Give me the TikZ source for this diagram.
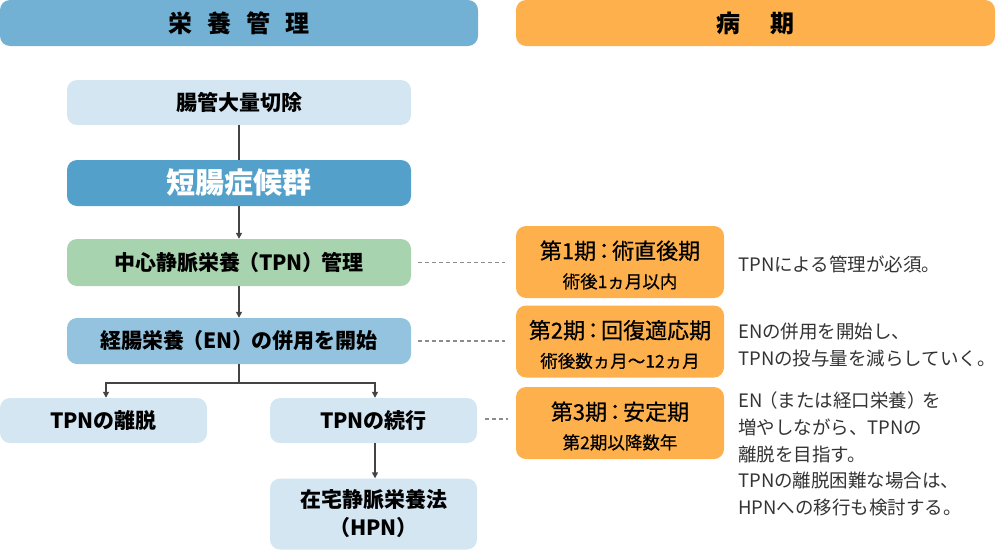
\documentclass[tikz,border=0pt]{standalone}
\usepackage{fontspec}
\setmainfont{Noto Sans CJK JP}
\newfontfamily\jpmed{Noto Sans CJK JP}[FakeBold=0.6]
\usetikzlibrary{arrows.meta}
\definecolor{hblue}{HTML}{72B1D4}
\definecolor{horange}{HTML}{FDB04B}
\definecolor{lblue}{HTML}{D4E6F2}
\definecolor{mblue}{HTML}{53A1CB}
\definecolor{lgreen}{HTML}{A7D3AE}
\definecolor{sblue}{HTML}{93C3DE}
\definecolor{txtgray}{HTML}{333333}
\definecolor{lnk}{HTML}{444444}
\definecolor{dotc}{HTML}{8C8C8C}
\tikzset{
  box/.style={rectangle, rounded corners=10pt, inner sep=0pt, align=center, font=\bfseries\fontsize{21}{26}\selectfont},
  hdr/.style={box, minimum height=46pt, font=\bfseries\fontsize{24}{28}\selectfont},
  obox/.style={box, fill=horange, minimum width=208pt, minimum height=72pt},
  otext/.style={inner sep=0pt, align=center, font=\jpmed\fontsize{22}{29}\selectfont},
  arr/.style={draw=lnk, line width=1.4pt, -{Triangle[length=6pt,width=6pt]}},
  ln/.style={draw=lnk, line width=1.4pt},
  dot/.style={draw=dotc, line width=1.4pt, dash pattern=on 3.5pt off 3.5pt},
  note/.style={anchor=west, inner sep=0pt, align=left, text=txtgray, font=\fontsize{18.5}{26.8}\selectfont}
}
\newcommand{\smallline}[1]{{\fontsize{17.5}{22}\selectfont #1}}
\newcommand{\pl}{\kern-2pt（}
\newcommand{\pr}{）\kern-2pt}
\begin{document}
\begin{tikzpicture}[x=1pt,y=-1pt]
\useasboundingbox (0,0) rectangle (1000,549);
% headers
\node[hdr, fill=hblue, minimum width=478pt] (hL) at (239,23) {栄\hspace{15pt}養\hspace{15pt}管\hspace{15pt}理};
\node[hdr, fill=horange, minimum width=479pt] (hR) at (755.5,23) {病\hspace{30pt}期};
% left column
\node[box, fill=lblue, minimum width=344pt, minimum height=45pt] (n1) at (239,102.5) {腸管大量切除};
\node[box, fill=mblue, text=white, minimum width=344pt, minimum height=46pt, font=\bfseries\fontsize{29}{32}\selectfont] (n2) at (239,183) {短腸症候群};
\node[box, fill=lgreen, minimum width=344pt, minimum height=47pt] (n3) at (239,262.5) {中心静脈栄養\pl TPN\pr 管理};
\node[box, fill=sblue, minimum width=344pt, minimum height=46pt] (n4) at (239,341) {経腸栄養\pl EN\pr の併用を開始};
\node[box, fill=lblue, minimum width=207pt, minimum height=45pt] (n5) at (103.5,420.5) {TPNの離脱};
\node[box, fill=lblue, minimum width=207pt, minimum height=45pt] (n6) at (373.5,420.5) {TPNの続行};
\node[box, fill=lblue, minimum width=207pt, minimum height=71pt, font=\bfseries\fontsize{21}{28}\selectfont] (n7) at (373.5,514) {在宅静脈栄養法\\（HPN）};
% orange boxes
\node[obox] (o1) at (620,262) {};
\node[obox] (o2) at (620,341.5) {};
\node[obox] (o3) at (620,423) {};
\node[otext] (o1t) at (620,265) {第1期\kern-3pt：\kern-3pt 術直後期\\\smallline{術後1ヵ月以内}};
\node[otext] (o2t) at (620,344.5) {第2期\kern-3pt：\kern-3pt 回復適応期\\\smallline{術後数ヵ月〜12ヵ月}};
\node[otext] (o3t) at (620,426) {第3期\kern-3pt：\kern-3pt 安定期\\\smallline{第2期以降数年}};
% notes
\node[note] (t1) at (738,264) {TPNによる管理が必須。};
\node[note] (t2) at (738,345) {ENの併用を開始し、\\TPNの投与量を減らしていく。};
\node[note] (t3) at (738,454) {EN\kern-3pt（または経口栄養）\kern-3pt を\\増やしながら、TPNの\\離脱を目指す。\\TPNの離脱困難な場合は、\\HPNへの移行も検討する。};
% connectors
\draw[ln] (n1) -- (n2);
\draw[arr] (n2) -- (n3);
\draw[arr] (n3) -- (n4);
\coordinate (br) at (239,383);
\draw[ln] (n4.south) -- (br);
\draw[arr] (br) -| ([xshift=2.5pt]n5.north);
\draw[arr] (br) -| ([xshift=1.5pt]n6.north);
\draw[arr] ([xshift=1.5pt]n6.south) -- ([xshift=1.5pt]n7.north);
\draw[dot] ([xshift=7pt]n3.east) -- ([xshift=-11pt]n3.east -| o1.west);
\draw[dot] ([xshift=7pt]n4.east) -- ([xshift=-11pt]n4.east -| o2.west);
\draw[dot] ([xshift=8pt,yshift=1.5pt]n6.east) -- ([xshift=-8pt,yshift=1.5pt]n6.east -| o3.west);
\end{tikzpicture}
\end{document}
